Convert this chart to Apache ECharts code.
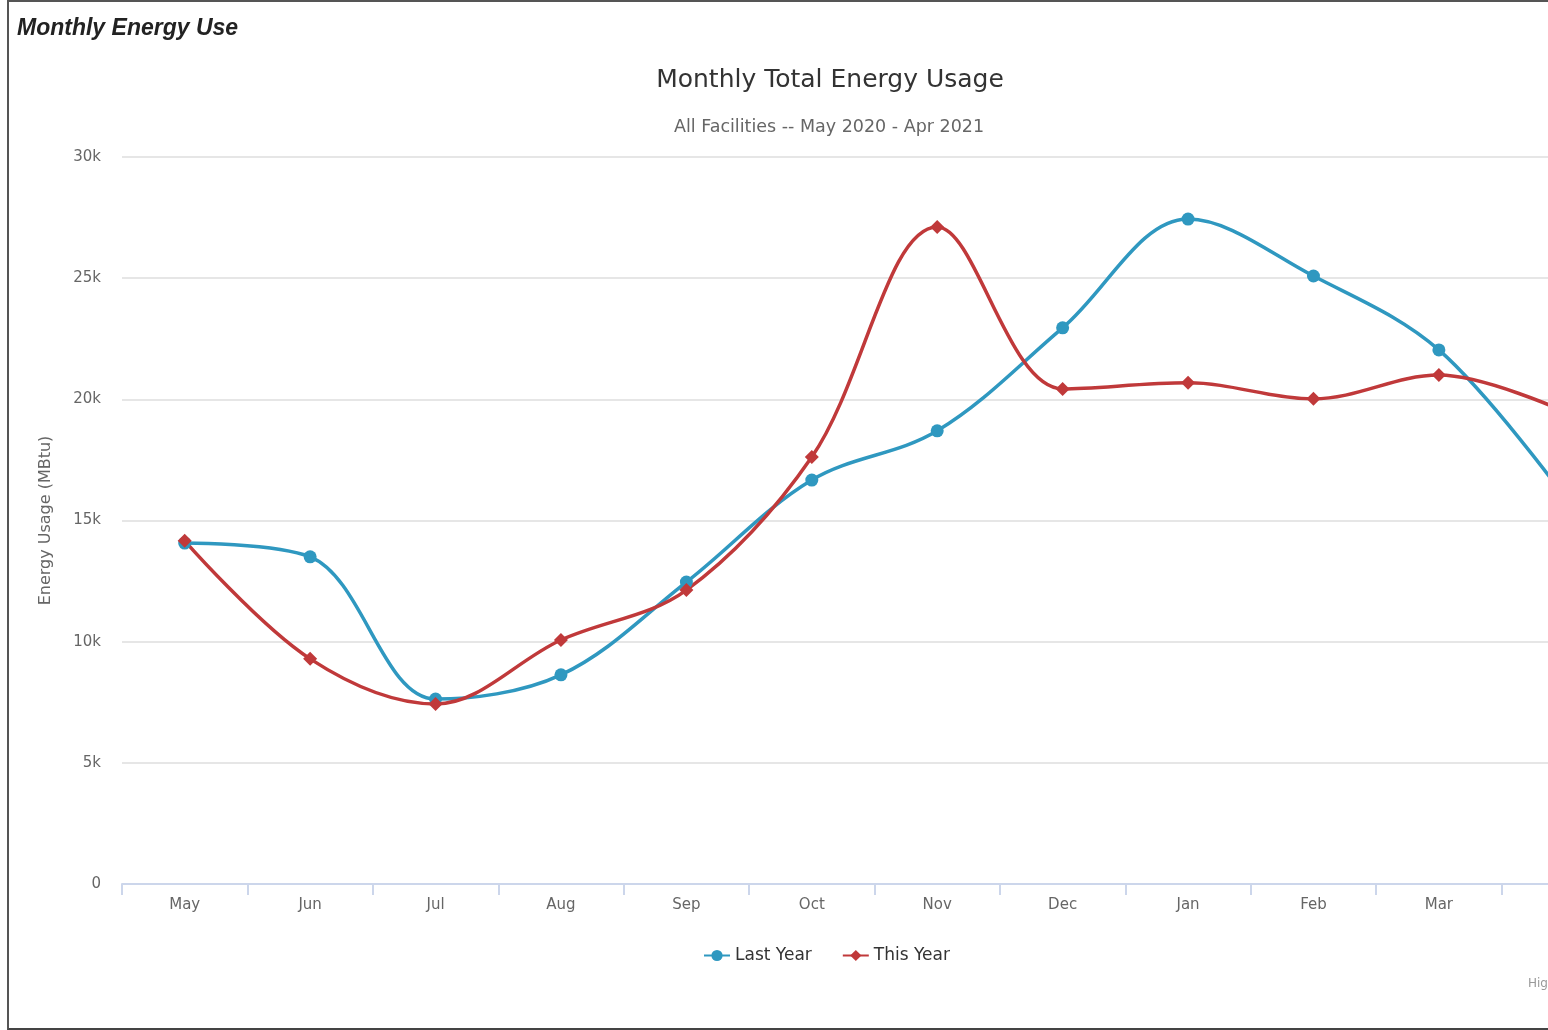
<!DOCTYPE html>
<html>
<head>
<meta charset="utf-8">
<script src="https://cdn.jsdelivr.net/npm/echarts@6/dist/echarts.min.js"></script>
<style>
html,body{margin:0;padding:0;background:#fff;overflow:hidden;width:1548px;height:1030px;}
#wrap{position:absolute;left:0;top:0;width:1548px;height:1030px;overflow:hidden;}
#chart{position:absolute;left:0;top:0;width:1658px;height:1030px;}
#frame{position:absolute;left:7px;top:0;width:1560px;height:1026px;border-left:2px solid #555;border-top:2px solid #555;border-bottom:3px solid #444;pointer-events:none;box-sizing:content-box;}
#hdr{position:absolute;left:17px;top:14px;font-family:"Liberation Sans",Arial,sans-serif;font-weight:bold;font-style:italic;font-size:23px;color:#222;}
</style>
</head>
<body>
<div id="wrap">
<div id="chart"></div>
<div id="frame"></div>
<div id="hdr">Monthly Energy Use</div>
</div>
<script>
const months = ['May','Jun','Jul','Aug','Sep','Oct','Nov','Dec','Jan','Feb','Mar','Apr'];
const lastYear = [14070, 13500, 7630, 8630, 12460, 16670, 18700, 22950, 27440, 25090, 22040, 16000];
const thisYear = [14160, 9290, 7430, 10070, 12130, 17620, 27110, 20430, 20680, 20020, 21000, 19500];
const yTicks = ['0','5k','10k','15k','20k','25k','30k'];

const font = '"DejaVu Sans", Verdana, sans-serif';
const chart = echarts.init(document.getElementById('chart'), null, {renderer:'canvas', width:1658, height:1030});
chart.setOption({
  animation: false,
  backgroundColor: '#fff',
  title: [{
    text: 'Monthly Total Energy Usage',
    left: 825, top: 63, textAlign: 'center',
    textStyle: {fontFamily: font, fontSize: 25, fontWeight: 'normal', color: '#333'}
  },{
    text: 'All Facilities -- May 2020 - Apr 2021',
    left: 824, top: 113, textAlign: 'center',
    textStyle: {fontFamily: font, fontSize: 17.5, fontWeight: 'normal', color: '#666'}
  }],
  legend: {
    left: 828 - 130, top: 942,
    itemGap: 30, itemWidth: 26, itemHeight: 14,
    textStyle: {fontFamily: font, fontSize: 17, color: '#333'},
    data: ['Last Year','This Year']
  },
  grid: {left: 122, right: 31, top: 157, bottom: 146, containLabel: false},
  xAxis: {
    type: 'category', data: months, boundaryGap: true,
    axisLine: {lineStyle: {color: '#ccd6eb', width: 2}},
    axisTick: {show: true, length: 11, lineStyle: {color: '#ccd6eb', width: 2}},
    axisLabel: {fontFamily: font, fontSize: 15, color: '#666', margin: 14},
    splitLine: {show: false}
  },
  yAxis: {
    type: 'value', min: 0, max: 30000, interval: 5000,
    name: 'Energy Usage (MBtu)', nameLocation: 'middle', nameGap: 68, nameRotate: 90,
    nameTextStyle: {fontFamily: font, fontSize: 16, color: '#666'},
    axisLine: {show: false}, axisTick: {show: false},
    axisLabel: {fontFamily: font, fontSize: 15, color: '#666', margin: 21,
      formatter: function(v){ return yTicks[Math.round(v/5000)]; }},
    splitLine: {lineStyle: {color: '#e6e6e6', width: 2}}
  },
  series: [{
    name: 'Last Year', type: 'line', data: lastYear, smooth: 0.35,
    symbol: 'circle', symbolSize: 13,
    lineStyle: {color: '#2f98c0', width: 3.5},
    itemStyle: {color: '#2f98c0'}
  },{
    name: 'This Year', type: 'line', data: thisYear, smooth: 0.35,
    symbol: 'diamond', symbolSize: 14,
    lineStyle: {color: '#c0393a', width: 3.5},
    itemStyle: {color: '#c0393a'}
  }],
  graphic: [{
    type: 'text', left: 1528, top: 978,
    style: {text: 'Highcharts.com', fontFamily: font, fontSize: 12, fill: '#999'}
  }]
});
</script>
</body>
</html>
